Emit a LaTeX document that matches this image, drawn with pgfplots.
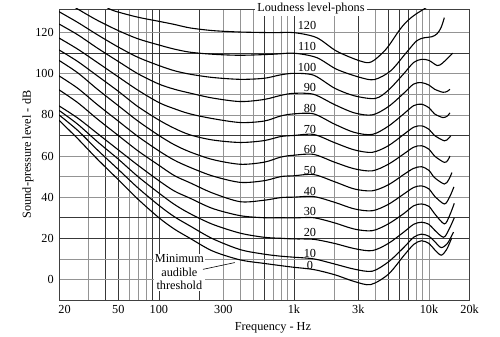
\documentclass[border=0pt,11pt]{standalone}
\usepackage{fontspec}
\setmainfont{Liberation Serif}
\usepackage{pgfplots}
\pgfplotsset{compat=1.18}
\begin{document}
\fontsize{12.3}{14.5}\selectfont
\begin{tikzpicture}
\begin{axis}[
  at={(0,0)}, anchor=south west,
  scale only axis, width=410.6bp, height=291bp,
  xmode=log, xmin=18.2, xmax=20000, ymin=-10, ymax=131.5,
  axis line style={black!75, line width=0.8bp},
  /pgf/number format/assume math mode=true,
  major tick length=0pt, minor tick length=0pt,
  xtick={40,50,90,100,200,600,1000,3000,5000,6000,7000},
  xticklabels={},
  minor xtick={30,60,70,80,300,400,500,700,800,900,2000,4000,8000,9000,10000},
  ytick={20,30,70,110}, yticklabels={},
  minor ytick={0,10,40,50,60,80,90,100,120},
  xmajorgrids, xminorgrids, ymajorgrids, yminorgrids,
  major grid style={black!78, line width=0.75bp},
  minor grid style={black!42, line width=0.65bp},
  extra x ticks={20,50,100,300,1000,3000,10000,20000},
  extra x tick labels={20,50,100,300,1k,3k,10k,20k},
  extra x tick style={xmajorgrids=false, major tick length=0pt},
  extra y ticks={0,20,40,60,80,100,120},
  extra y tick labels={0,20,40,60,80,100,120},
  extra y tick style={ymajorgrids=false, major tick length=0pt},
  xticklabel style={yshift=-1bp},
  yticklabel style={xshift=-1bp},
  xlabel={Frequency - Hz},
  ylabel={Sound-pressure level - dB},
  xlabel style={at={(axis description cs:0.521,-0.096)}, anchor=center},
  ylabel style={at={(axis description cs:-0.0755,0.5)}, anchor=center},
  crv/.style={black, solid, line width=1.1bp, smooth, mark=none},
]
% 0 phon
\addplot[crv] coordinates {(18.2,77.4) (25,68.5) (35,58.5) (50,48.5) (70,39) (100,30) (130,24.5) (170,20) (250,13.8) (400,9.5) (600,7.8) (800,6.7) (1000,5.9) (1400,4.8) (2000,2.3) (2800,-1) (3700,-2.5) (5000,2.5) (6500,11.5) (7700,17) (8800,18.8) (10000,17.5) (11000,14.5) (12300,11.8) (13500,14.5) (14700,20)};
% 10
\addplot[crv] coordinates {(18.2,80) (25,72.5) (35,63) (50,53.5) (70,44.5) (100,36) (130,30.5) (170,26) (250,19.8) (400,14.5) (600,12.3) (800,11.3) (1000,10.8) (1400,10) (2000,7.5) (2800,5) (3800,4) (5000,8.5) (6500,15.5) (7700,20.5) (8800,22) (10000,21) (11000,18.5) (12300,15.5) (13700,17.5) (15200,23)};
% 20
\addplot[crv] coordinates {(18.2,82.2) (25,75.5) (35,67) (50,58.5) (70,50) (100,42) (130,36.5) (170,32) (250,26.8) (400,22.5) (600,20.5) (800,20) (1000,19.7) (1400,19.5) (2000,17.5) (2800,15) (3800,14) (5000,17.5) (6500,23) (7700,26.8) (8800,27.8) (10000,26.8) (11000,24) (12800,20.5) (14000,24) (15400,30)};
% 30
\addplot[crv] coordinates {(18.2,84.4) (25,78.5) (35,71) (50,63) (70,55.5) (100,48) (130,43) (170,39.5) (250,34.5) (400,31) (600,30) (800,30) (1000,29.9) (1400,30) (2000,27.5) (2800,24.5) (3800,23.7) (5000,27) (6500,32) (7700,35.8) (8800,36.7) (10000,35.5) (11000,32) (13000,27) (14200,31) (15400,37)};
% 40
\addplot[crv] coordinates {(18.2,92.2) (25,86) (35,78) (50,70) (70,62.5) (100,55.5) (130,50.5) (170,47) (250,42) (400,37.8) (600,38.5) (800,39.8) (1000,40) (1400,40.3) (2000,37.5) (2800,34.3) (3800,33.4) (5000,36.5) (6500,41.5) (7700,44.7) (8800,45.5) (10000,44) (11000,40.5) (13000,36.7) (14200,40) (15300,45)};
% 50
\addplot[crv] coordinates {(18.2,99) (25,93) (35,85) (50,77) (70,69.5) (100,62.5) (130,58) (170,54.5) (250,50.3) (400,47.2) (600,48) (800,50) (1000,50.4) (1400,51) (2000,47.5) (2800,44) (3800,43.1) (5000,46) (6500,51) (7700,54) (8800,54.8) (10000,53) (11000,49.5) (13000,46.4) (14000,48.5) (14800,52)};
% 60
\addplot[crv] coordinates {(18.2,106.5) (25,100.5) (35,92.5) (50,84.5) (70,77) (100,70) (130,65.5) (170,62) (250,58.3) (400,56) (600,57) (800,59.5) (1000,60.4) (1400,60.8) (2000,57) (2800,53.8) (3800,52.8) (5000,56) (6500,61) (7700,64.3) (8800,65) (10000,63.3) (11000,60) (13000,56.9) (13800,58) (14300,60)};
% 70
\addplot[crv] coordinates {(18.2,111.6) (25,106) (35,99) (50,91.5) (70,84) (100,77.5) (130,73.5) (170,70.3) (250,67.8) (400,66.6) (600,67.5) (800,69.5) (1000,70) (1400,70.5) (2000,66.5) (2800,63) (3800,61.8) (5000,65) (6500,70.5) (7700,74) (8800,74.7) (10000,73) (11000,70) (13000,67.4) (13900,68.5) (14500,69.8)};
% 80
\addplot[crv] coordinates {(18.2,117.4) (25,112) (35,105.5) (50,98.5) (70,92) (100,86) (130,83) (170,80.5) (250,78.2) (400,76.3) (600,77) (800,79.5) (1000,80.5) (1400,80.5) (2000,75.5) (2800,71.5) (3800,70.5) (5000,74.5) (6500,80.5) (7700,84.5) (8800,85.2) (10000,83.5) (11000,80.5) (12700,78.7) (13700,79.5) (14300,81)};
% 90
\addplot[crv] coordinates {(18.2,124.2) (25,119) (35,112.5) (50,106) (70,100) (100,95) (130,92.5) (170,90.6) (250,88.2) (400,86.5) (600,87.5) (800,89.5) (1000,90.5) (1400,90) (2000,85) (2800,81) (3800,80) (5000,84) (6500,90.5) (7700,95) (8800,95.7) (10000,94.5) (11000,92.5) (12700,91) (13700,91.5) (14300,92.5)};
% 100
\addplot[crv] coordinates {(18.2,130.2) (25,125) (35,119) (50,113) (70,108) (100,104) (130,101.5) (170,99.8) (250,98.2) (400,97.3) (600,97.8) (800,99.5) (1000,100.2) (1400,99.3) (2000,93) (2800,89.3) (4000,88) (5000,92) (6500,100) (7700,105.5) (8800,107) (10000,106.5) (11500,104) (12500,105) (13700,107.5) (15000,110)};
% 110
\addplot[crv] coordinates {(18.2,137) (25,131.5) (35,126) (50,121) (70,117) (100,114) (130,112) (170,110.5) (250,109.5) (400,109) (700,109.5) (1000,110) (1470,107.9) (2070,102.2) (3100,98.2) (3950,97.2) (5200,101.4) (6800,110.3) (8100,116) (9200,117.5) (10500,118) (11500,119.5) (12300,122.5) (13000,127.3)};
% 120
\addplot[crv] coordinates {(38,134) (43,131.5) (50,130) (70,127.5) (100,125.5) (130,124) (170,122.3) (250,121) (400,120.3) (700,120) (1000,120) (1470,117.6) (2070,111) (3100,106.2) (3750,105.8) (4800,111.9) (6100,121.6) (7000,126) (8000,129) (9300,131.7) (10000,133)};
\coordinate (lt) at (axis cs:1336,131.5);
\coordinate (thr) at (axis cs:141.8,3.5);
\coordinate (l1) at (axis cs:212,4.9);
\coordinate (l2) at (axis cs:365,8.2);
\coordinate (p120) at (axis cs:1250,123.5);
\coordinate (p110) at (axis cs:1250,113.2);
\coordinate (p100) at (axis cs:1250,103);
\coordinate (p90) at (axis cs:1314,93.3);
\coordinate (p80) at (axis cs:1314,83.3);
\coordinate (p70) at (axis cs:1314,73);
\coordinate (p60) at (axis cs:1314,63);
\coordinate (p50) at (axis cs:1314,52.8);
\coordinate (p40) at (axis cs:1314,42.8);
\coordinate (p30) at (axis cs:1314,32.9);
\coordinate (p20) at (axis cs:1314,22.9);
\coordinate (p10) at (axis cs:1314,12.7);
\coordinate (p0) at (axis cs:1314,7.0);
\end{axis}
\node[fill=white, inner xsep=2.5bp, inner ysep=1bp] at (lt) {Loudness level-phons};
\node[fill=white, align=center, inner sep=1bp, font=\fontsize{12.3}{13.5}\selectfont] at (thr) {Minimum\\audible\\threshold};
\draw[black, line width=0.6bp] (l1) -- (l2);
\foreach \p/\t in {p120/120,p110/110,p100/100,p90/90,p80/80,p70/70,p60/60,p50/50,p40/40,p30/30,p20/20,p10/10,p0/0}
  \node[inner sep=0pt] at (\p) {\t};
\pgfresetboundingbox
\path (-59bp,-37bp) rectangle (441bp,300bp);
\end{tikzpicture}
\end{document}
